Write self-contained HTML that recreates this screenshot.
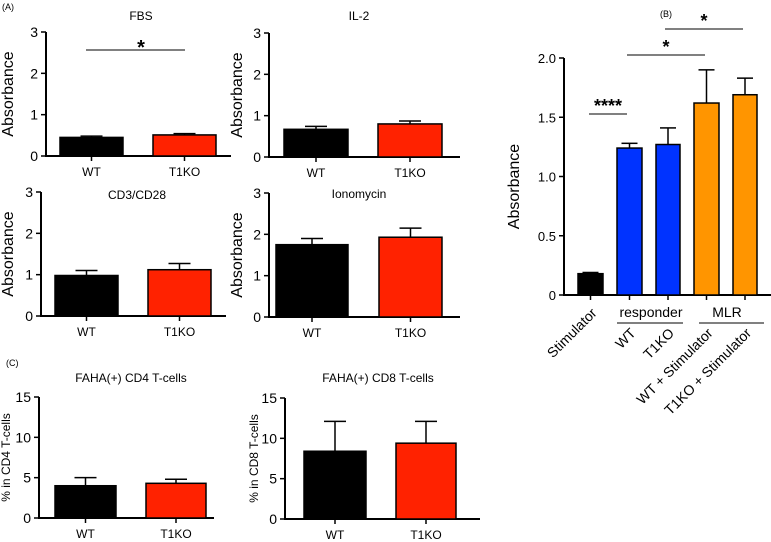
<!DOCTYPE html>
<html><head><meta charset="utf-8">
<style>
html,body{margin:0;padding:0;background:#fff;}
svg{display:block;font-family:"Liberation Sans",sans-serif;}
</style></head>
<body>
<svg id="fig" width="771" height="542" viewBox="0 0 771 542">
<text x="2" y="10" font-size="9">(A)</text>
<text x="6" y="366" font-size="9">(C)</text>
<text x="660" y="17" font-size="9">(B)</text>
</svg>
<script>
const groups = ["WT","T1KO"];
const fbsMeans = [0.45, 0.51];
const fbsErr = [0.03, 0.03];
const il2Means = [0.67, 0.80];
const il2Err = [0.07, 0.07];
const cd3Means = [0.98, 1.12];
const cd3Err = [0.12, 0.15];
const ionoMeans = [1.75, 1.93];
const ionoErr = [0.15, 0.22];
const cd4Means = [4.0, 4.3];
const cd4Err = [1.0, 0.5];
const cd8Means = [8.4, 9.4];
const cd8Err = [3.7, 2.7];
const absTicks = [0,1,2,3];
const pctTicks = [0,5,10,15];
const bCats = ["Stimulator","WT","T1KO","WT + Stimulator","T1KO + Stimulator"];
const bMeans = [0.18, 1.24, 1.27, 1.62, 1.69];
const bErr = [0.01, 0.04, 0.14, 0.28, 0.14];
const bTicks = ["0","0.5","1.0","1.5","2.0"];
const bTickVals = [0,0.5,1.0,1.5,2.0];

const NS="http://www.w3.org/2000/svg";
const svg=document.getElementById('fig');
function mk(tag,attrs,parent){const e=document.createElementNS(NS,tag);for(const k in attrs)e.setAttribute(k,attrs[k]);(parent||svg).appendChild(e);return e;}

function small(cfg){
  const g=mk('g',{});
  
  
  const y=v=>cfg.y0-(v/cfg.max)*(cfg.y0-cfg.yTop);
  const t=mk('text',{x:cfg.titleX,y:cfg.titleY,'font-size':12,'text-anchor':'middle'},g);t.textContent=cfg.title;
  
  const yl=mk('text',{x:0,y:0,'font-size':cfg.ylSize||16,'text-anchor':'middle',transform:`translate(${cfg.ylX},${(cfg.y0+cfg.yTop)/2}) rotate(-90)`},g);yl.textContent=cfg.ylabel;
  
  mk('line',{x1:cfg.ax,y1:cfg.yTop,x2:cfg.ax,y2:cfg.y0+1,stroke:'#000','stroke-width':2},g);
  mk('line',{x1:cfg.ax-1,y1:cfg.y0,x2:cfg.axEnd,y2:cfg.y0,stroke:'#000','stroke-width':2},g);
  cfg.ticks.forEach(v=>{
    mk('line',{x1:cfg.ax-5,y1:y(v),x2:cfg.ax,y2:y(v),stroke:'#000','stroke-width':1.5},g);
    const tt=mk('text',{x:cfg.ax-8,y:y(v)+5,'font-size':14,'text-anchor':'end'},g);tt.textContent=v;
    
  });
  const colors=['#000','#ff2200'];
  groups.forEach((gname,i)=>{
    const x1=cfg.bars[i][0],x2=cfg.bars[i][1],cx=(x1+x2)/2;
    const ye=y(cfg.means[i]+cfg.err[i]);
    mk('line',{x1:cx,y1:y(cfg.means[i]),x2:cx,y2:ye,stroke:'#000','stroke-width':1.5},g);
    mk('line',{x1:cx-11,y1:ye,x2:cx+11,y2:ye,stroke:'#000','stroke-width':1.5},g);
    const r=mk('rect',{x:x1,y:y(cfg.means[i]),width:x2-x1,height:cfg.y0-y(cfg.means[i]),fill:colors[i],stroke:'#000','stroke-width':1.5},g);
    
    mk('line',{x1:cx,y1:cfg.y0,x2:cx,y2:cfg.y0+5,stroke:'#000','stroke-width':1.5},g);
    const lt=mk('text',{x:cx,y:cfg.y0+20,'font-size':12,'text-anchor':'middle'},g);lt.textContent=gname;
    
  });
  return {g,y};
}
const fbs=small({name:'fbs-chart',title:'FBS',titleX:141,titleY:20,ylabel:'Absorbance',ylX:13,ax:46,axEnd:231,y0:156,yTop:32,max:3,ticks:absTicks,means:fbsMeans,err:fbsErr,bars:[[60,123],[153,216]]});
mk('line',{x1:86,y1:50,x2:185,y2:50,stroke:'#000','stroke-width':1},fbs.g);
const s1=mk('text',{x:141,y:54,'font-size':20,'font-weight':'bold','text-anchor':'middle'},fbs.g);s1.textContent='*';
small({name:'il2-chart',title:'IL-2',titleX:359,titleY:20,ylabel:'Absorbance',ylX:242,ax:269,axEnd:460,y0:157,yTop:33,max:3,ticks:absTicks,means:il2Means,err:il2Err,bars:[[284,348],[378,442]]});
small({name:'cd3-cd28-chart',title:'CD3/CD28',titleX:137,titleY:199,ylabel:'Absorbance',ylX:13,ax:41,axEnd:226,y0:316,yTop:192,max:3,ticks:absTicks,means:cd3Means,err:cd3Err,bars:[[55,118],[148,211]]});
small({name:'ionomycin-chart',title:'Ionomycin',titleX:359,titleY:198,ylabel:'Absorbance',ylX:242,ax:269,axEnd:460,y0:317,yTop:193,max:3,ticks:absTicks,means:ionoMeans,err:ionoErr,bars:[[276,348],[379,442]]});
small({name:'cd4-chart',title:'FAHA(+) CD4 T-cells',titleX:131,titleY:382,ylabel:'% in CD4 T-cells',ylSize:12,ylX:10,ax:39,axEnd:214,y0:518,yTop:397,max:15,ticks:pctTicks,means:cd4Means,err:cd4Err,bars:[[55,116],[146,206]]});
small({name:'cd8-chart',title:'FAHA(+) CD8 T-cells',titleX:378,titleY:382,ylabel:'% in CD8 T-cells',ylSize:12,ylX:258,ax:285,axEnd:480,y0:519,yTop:398,max:15,ticks:pctTicks,means:cd8Means,err:cd8Err,bars:[[304,366],[396,456]]});

// Panel B
(function(){
  const g=mk('g',{});
  
  
  const y0=295,yTop=58,max=2.0,ax=564;
  const y=v=>y0-(v/max)*(y0-yTop);
  const bx=[[578,603],[617,642],[656,680],[694,719],[733,757]];
  const cols=['#000','#0033ff','#0033ff','#ff9500','#ff9500'];
  const yl=mk('text',{x:0,y:0,'font-size':16,'text-anchor':'middle',transform:`translate(${519},${(y0+yTop)/2+10}) rotate(-90)`},g);yl.textContent='Absorbance';
  
  mk('line',{x1:ax,y1:yTop,x2:ax,y2:y0+1,stroke:'#000','stroke-width':2},g);
  mk('line',{x1:ax-1,y1:y0,x2:771,y2:y0,stroke:'#000','stroke-width':2},g);
  bTickVals.forEach((v,i)=>{
    mk('line',{x1:ax-5,y1:y(v),x2:ax,y2:y(v),stroke:'#000','stroke-width':1.5},g);
    const t=mk('text',{x:ax-8,y:y(v)+5,'font-size':13,'text-anchor':'end'},g);t.textContent=bTicks[i];
    
  });
  bCats.forEach((c,i)=>{
    const x1=bx[i][0],x2=bx[i][1],cx=(x1+x2)/2,ye=y(bMeans[i]+bErr[i]);
    mk('line',{x1:cx,y1:y(bMeans[i]),x2:cx,y2:ye,stroke:'#000','stroke-width':1.5},g);
    mk('line',{x1:cx-8,y1:ye,x2:cx+8,y2:ye,stroke:'#000','stroke-width':1.5},g);
    const r=mk('rect',{x:x1,y:y(bMeans[i]),width:x2-x1,height:y0-y(bMeans[i]),fill:cols[i],stroke:'#000','stroke-width':1.5},g);
    
    mk('line',{x1:cx,y1:y0,x2:cx,y2:y0+5,stroke:'#000','stroke-width':1.5},g);
    const t=mk('text',{x:0,y:0,'font-size':14,'text-anchor':'end',transform:`translate(${cx+7},${i==0?314:334}) rotate(-45)`},g);t.textContent=c;
    
  });
  const gl=[['responder',651,317,617,683],['MLR',727,317,699,764]];
  gl.forEach(a=>{const t=mk('text',{x:a[1],y:a[2],'font-size':14,'text-anchor':'middle'},g);t.textContent=a[0];
    
    mk('line',{x1:a[3],y1:323,x2:a[4],y2:323,stroke:'#000','stroke-width':1},g);});
  const sig=[[589,627,114,'****'],[627,705,55,'*'],[665,743,29,'*']];
  sig.forEach(s=>{mk('line',{x1:s[0],y1:s[2],x2:s[1],y2:s[2],stroke:'#000','stroke-width':1},g);
    const t=mk('text',{x:(s[0]+s[1])/2,y:s[2]-2,'font-size':18,'font-weight':'bold','text-anchor':'middle'},g);t.textContent=s[3];
    });
})();
</script>
</body></html>
